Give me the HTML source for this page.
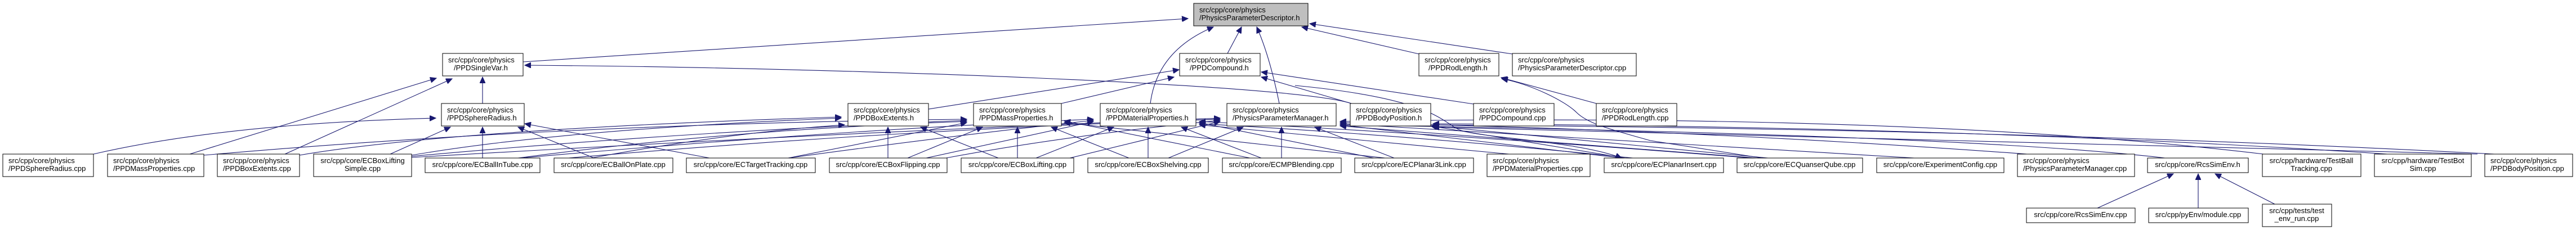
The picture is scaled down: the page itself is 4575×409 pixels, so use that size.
<!DOCTYPE html>
<html><head><meta charset="utf-8"><style>
html,body{margin:0;padding:0;background:#fff;}
svg{display:block;}
text{font-family:"Liberation Sans",Arial,sans-serif;font-size:13px;fill:#000;}
.b{fill:#fff;stroke:#000;stroke-width:1;}
.e{fill:none;stroke:#191970;stroke-width:1.1;marker-end:url(#a);}
</style></head><body>
<svg width="4575" height="409" viewBox="0 0 4575 409" xmlns="http://www.w3.org/2000/svg">
<defs><marker id="a" markerUnits="userSpaceOnUse" markerWidth="12" markerHeight="10" refX="11" refY="5" orient="auto"><path d="M0,0 L11,5 L0,10 z" fill="#191970" stroke="#191970"/></marker></defs>

<!-- edges -->
<path class="e" d="M929,110 L2110,33"/>
<path class="e" d="M2180,95 L2205,48"/>
<path class="e" d="M2043,184 Q2055,90 2155,48"/>
<path class="e" d="M2272,184 Q2255,100 2232,48"/>
<path class="e" d="M2520,96 L2312,48"/>
<path class="e" d="M2686,96 L2326,42"/>
<path class="e" d="M857,184 L857,137"/>
<path class="e" d="M337,274 L775,139"/>
<path class="e" d="M506,274 L803,140"/>
<path class="e" d="M2400,184 C2300,150 1500,120 932,116"/>
<path class="e" d="M1649,194 L2094,124"/>
<path class="e" d="M1885,184 L2085,137"/>
<path class="e" d="M2400,184 L2240,137"/>
<path class="e" d="M2617,185 L2240,128"/>
<path class="e" d="M2835,184 L2666,138"/>
<path class="e" d="M3129,281 L2931,250 C2860,230 2820,220 2800,200 S2720,150 2667,140"/>
<path class="e" d="M2300,152 C2540,175 2560,215 2590,230 S2800,250 2880,281"/>

<path class="e" d="M166,274 Q400,220 774,210"/>
<path class="e" d="M693,274 L800,226"/>
<path class="e" d="M857,281 L857,226"/>
<path class="e" d="M1055,281 L920,226"/>
<path class="e" d="M1260,281 L932,220"/>

<path class="e" d="M532,276 Q800,230 1494,208"/>
<path class="e" d="M731,276 Q1000,230 1494,210"/>
<path class="e" d="M1577,281 L1577,226"/>
<path class="e" d="M1773,281 L1635,226"/>
<path class="e" d="M1050,281 Q1300,235 1500,222"/>

<path class="e" d="M362,276 Q1000,220 1717,212"/>
<path class="e" d="M731,278 Q1200,235 1717,214"/>
<path class="e" d="M920,281 Q1300,230 1717,216"/>
<path class="e" d="M1400,281 L1717,218"/>
<path class="e" d="M1612,281 L1745,226"/>
<path class="e" d="M1807,281 L1807,226"/>
<path class="e" d="M2005,281 L1867,226"/>
<path class="e" d="M2220,281 L1890,215"/>
<path class="e" d="M2460,281 L1890,218"/>

<path class="e" d="M1645,281 L1942,216"/>
<path class="e" d="M1840,281 L1978,226"/>
<path class="e" d="M2039,281 L2039,226"/>
<path class="e" d="M2240,281 L2098,226"/>
<path class="e" d="M2440,281 L2130,218"/>
<path class="e" d="M2680,274 L2130,222"/>
<path class="e" d="M925,281 Q1500,230 1942,212"/>
<path class="e" d="M1400,281 Q1700,240 1942,214"/>
<path class="e" d="M2900,281 Q2500,240 2130,220"/>
<path class="e" d="M3110,281 Q2600,240 2130,216"/>

<path class="e" d="M2075,281 L2208,226"/>
<path class="e" d="M2276,281 L2276,226"/>
<path class="e" d="M2476,281 L2335,226"/>
<path class="e" d="M2880,281 L2380,222"/>
<path class="e" d="M3120,281 L2380,224"/>
<path class="e" d="M3400,281 L2380,220"/>
<path class="e" d="M3600,274 Q3000,230 2380,218"/>
<path class="e" d="M3845,281 Q3500,240 2380,222"/>
<path class="e" d="M4020,274 Q3400,200 2380,216"/>
<path class="e" d="M1900,281 L2167,216"/>
<path class="e" d="M1680,281 Q1900,240 2167,214"/>
<path class="e" d="M1010,281 Q1600,230 2167,212"/>
<path class="e" d="M731,280 Q1500,235 2167,210"/>

<path class="e" d="M2886,281 L2541,224"/>
<path class="e" d="M3140,281 L2545,224"/>
<path class="e" d="M4430,274 Q3600,230 2545,222"/>
<path class="e" d="M4240,274 Q3500,225 2545,220"/>
<path class="e" d="M4400,274 Q3600,255 2545,226"/>

<path class="e" d="M3725,370 L3860,309"/>
<path class="e" d="M3904,370 L3904,309"/>
<path class="e" d="M4040,363 L3934,309"/>

<!-- nodes -->
<rect x="2120" y="6" width="203" height="40" fill="#bfbfbf" stroke="#000"/>
<text x="2130" y="22">src/cpp/core/physics</text><text x="2130" y="36">/PhysicsParameterDescriptor.h</text>

<rect class="b" x="786" y="95" width="143" height="40"/><text x="796" y="111">src/cpp/core/physics</text><text x="806" y="125">/PPDSingleVar.h</text>
<rect class="b" x="2095" y="95" width="143" height="40"/><text x="2105" y="111">src/cpp/core/physics</text><text x="2113" y="125">/PPDCompound.h</text>
<rect class="b" x="2520" y="95" width="142" height="40"/><text x="2530" y="111">src/cpp/core/physics</text><text x="2537" y="125">/PPDRodLength.h</text>
<rect class="b" x="2686" y="95" width="220" height="40"/><text x="2696" y="111">src/cpp/core/physics</text><text x="2696" y="125">/PhysicsParameterDescriptor.cpp</text>

<rect class="b" x="784" y="184" width="147" height="40"/><text x="794" y="200">src/cpp/core/physics</text><text x="794" y="214">/PPDSphereRadius.h</text>
<rect class="b" x="1506" y="184" width="143" height="40"/><text x="1516" y="200">src/cpp/core/physics</text><text x="1516" y="214">/PPDBoxExtents.h</text>
<rect class="b" x="1729" y="184" width="156" height="40"/><text x="1739" y="200">src/cpp/core/physics</text><text x="1739" y="214">/PPDMassProperties.h</text>
<rect class="b" x="1954" y="184" width="170" height="40"/><text x="1964" y="200">src/cpp/core/physics</text><text x="1964" y="214">/PPDMaterialProperties.h</text>
<rect class="b" x="2179" y="184" width="194" height="40"/><text x="2189" y="200">src/cpp/core/physics</text><text x="2189" y="214">/PhysicsParameterManager.h</text>
<rect class="b" x="2398" y="184" width="143" height="40"/><text x="2408" y="200">src/cpp/core/physics</text><text x="2408" y="214">/PPDBodyPosition.h</text>
<rect class="b" x="2617" y="184" width="143" height="40"/><text x="2627" y="200">src/cpp/core/physics</text><text x="2627" y="214">/PPDCompound.cpp</text>
<rect class="b" x="2835" y="184" width="143" height="40"/><text x="2845" y="200">src/cpp/core/physics</text><text x="2845" y="214">/PPDRodLength.cpp</text>

<rect class="b" x="5" y="274" width="161" height="40"/><text x="15" y="290">src/cpp/core/physics</text><text x="15" y="304">/PPDSphereRadius.cpp</text>
<rect class="b" x="191" y="274" width="171" height="40"/><text x="201" y="290">src/cpp/core/physics</text><text x="201" y="304">/PPDMassProperties.cpp</text>
<rect class="b" x="386" y="274" width="146" height="40"/><text x="396" y="290">src/cpp/core/physics</text><text x="396" y="304">/PPDBoxExtents.cpp</text>
<rect class="b" x="557" y="274" width="174" height="40"/><text x="644" y="290" text-anchor="middle">src/cpp/core/ECBoxLifting</text><text x="644" y="304" text-anchor="middle">Simple.cpp</text>
<rect class="b" x="755" y="281" width="204" height="26"/><text x="857" y="297" text-anchor="middle">src/cpp/core/ECBallInTube.cpp</text>
<rect class="b" x="984" y="281" width="211" height="26"/><text x="1089" y="297" text-anchor="middle">src/cpp/core/ECBallOnPlate.cpp</text>
<rect class="b" x="1219" y="281" width="229" height="26"/><text x="1333" y="297" text-anchor="middle">src/cpp/core/ECTargetTracking.cpp</text>
<rect class="b" x="1473" y="281" width="209" height="26"/><text x="1577" y="297" text-anchor="middle">src/cpp/core/ECBoxFlipping.cpp</text>
<rect class="b" x="1707" y="281" width="200" height="26"/><text x="1807" y="297" text-anchor="middle">src/cpp/core/ECBoxLifting.cpp</text>
<rect class="b" x="1932" y="281" width="214" height="26"/><text x="2039" y="297" text-anchor="middle">src/cpp/core/ECBoxShelving.cpp</text>
<rect class="b" x="2171" y="281" width="211" height="26"/><text x="2276" y="297" text-anchor="middle">src/cpp/core/ECMPBlending.cpp</text>
<rect class="b" x="2406" y="281" width="211" height="26"/><text x="2511" y="297" text-anchor="middle">src/cpp/core/ECPlanar3Link.cpp</text>
<rect class="b" x="2641" y="274" width="183" height="40"/><text x="2651" y="290">src/cpp/core/physics</text><text x="2651" y="304">/PPDMaterialProperties.cpp</text>
<rect class="b" x="2849" y="281" width="212" height="26"/><text x="2955" y="297" text-anchor="middle">src/cpp/core/ECPlanarInsert.cpp</text>
<rect class="b" x="3085" y="281" width="223" height="26"/><text x="3196" y="297" text-anchor="middle">src/cpp/core/ECQuanserQube.cpp</text>
<rect class="b" x="3333" y="281" width="226" height="26"/><text x="3446" y="297" text-anchor="middle">src/cpp/core/ExperimentConfig.cpp</text>
<rect class="b" x="3583" y="274" width="208" height="40"/><text x="3593" y="290">src/cpp/core/physics</text><text x="3593" y="304">/PhysicsParameterManager.cpp</text>
<rect class="b" x="3814" y="281" width="179" height="26"/><text x="3903" y="297" text-anchor="middle">src/cpp/core/RcsSimEnv.h</text>
<rect class="b" x="4018" y="274" width="175" height="40"/><text x="4105" y="290" text-anchor="middle">src/cpp/hardware/TestBall</text><text x="4105" y="304" text-anchor="middle">Tracking.cpp</text>
<rect class="b" x="4217" y="274" width="172" height="40"/><text x="4303" y="290" text-anchor="middle">src/cpp/hardware/TestBot</text><text x="4303" y="304" text-anchor="middle">Sim.cpp</text>
<rect class="b" x="4413" y="274" width="156" height="40"/><text x="4423" y="290">src/cpp/core/physics</text><text x="4423" y="304">/PPDBodyPosition.cpp</text>

<rect class="b" x="3599" y="370" width="193" height="26"/><text x="3695" y="386" text-anchor="middle">src/cpp/core/RcsSimEnv.cpp</text>
<rect class="b" x="3816" y="370" width="177" height="26"/><text x="3904" y="386" text-anchor="middle">src/cpp/pyEnv/module.cpp</text>
<rect class="b" x="4018" y="363" width="123" height="40"/><text x="4079" y="379" text-anchor="middle">src/cpp/tests/test</text><text x="4079" y="393" text-anchor="middle">_env_run.cpp</text>
</svg>
</body></html>
